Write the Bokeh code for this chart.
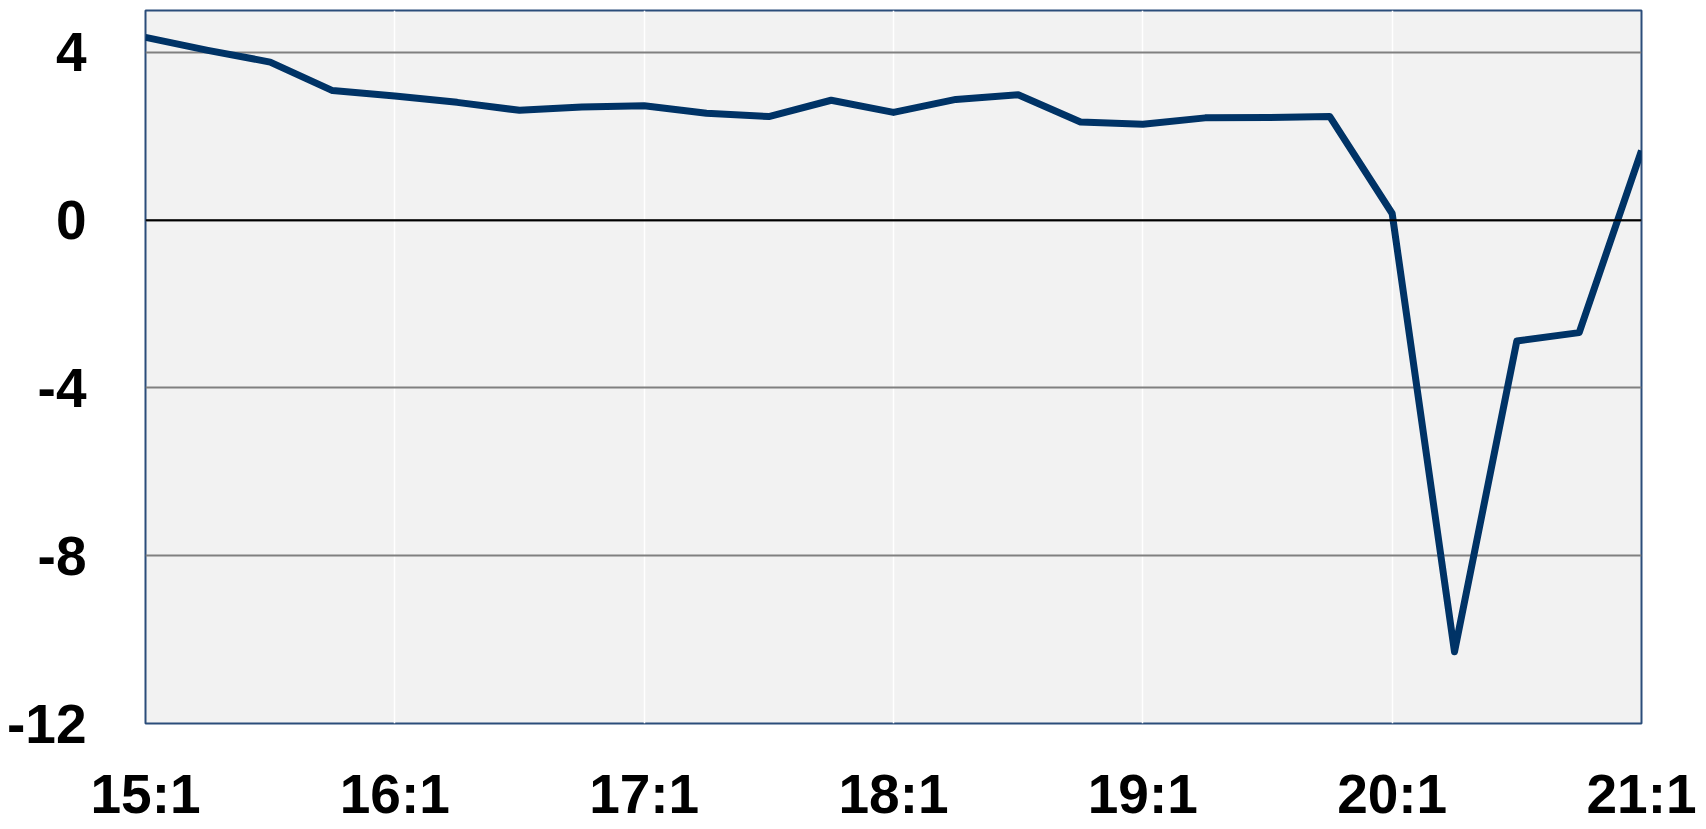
from bokeh.plotting import figure
from bokeh.models import FixedTicker, Span
from bokeh.embed import file_html
from bokeh.resources import INLINE

quarters = ["15:1", "15:2", "15:3", "15:4",
            "16:1", "16:2", "16:3", "16:4",
            "17:1", "17:2", "17:3", "17:4",
            "18:1", "18:2", "18:3", "18:4",
            "19:1", "19:2", "19:3", "19:4",
            "20:1", "20:2", "20:3", "20:4",
            "21:1"]
values = [4.36, 4.05, 3.77, 3.09,
          2.96, 2.81, 2.62, 2.70,
          2.73, 2.55, 2.47, 2.86,
          2.57, 2.88, 2.99, 2.34,
          2.29, 2.44, 2.45, 2.47,
          0.16, -10.29, -2.88, -2.68,
          1.66]
y_ticks = [-12, -8, -4, 0, 4]
y_labels = ["-12", "-8", "-4", "0", "4"]

xs = list(range(len(quarters)))
year_ticks = [i for i, q in enumerate(quarters) if q.endswith(":1")]

FONT = "Liberation Sans"

p = figure(width=1700, height=829, output_backend="svg", toolbar_location=None,
           x_range=(0, len(quarters) - 1), y_range=(-12, 5),
           min_border_left=145, min_border_right=59, min_border_top=10, min_border_bottom=106)

p.background_fill_color = "#f2f2f2"
p.border_fill_color = "white"
p.outline_line_color = "#2b4d7a"
p.outline_line_width = 2

p.xaxis.ticker = FixedTicker(ticks=year_ticks)
p.xaxis.major_label_overrides = {i: quarters[i] for i in year_ticks}
p.yaxis.ticker = FixedTicker(ticks=y_ticks)
p.yaxis.major_label_overrides = dict(zip(y_ticks, y_labels))

for ax in (p.xaxis[0], p.yaxis[0]):
    ax.axis_line_color = None
    ax.major_tick_line_color = None
    ax.minor_tick_line_color = None
    ax.major_label_text_font = FONT
    ax.major_label_text_font_style = "bold"
    ax.major_label_text_font_size = "55px"
    ax.major_label_text_color = "black"
p.yaxis.major_label_standoff = 53
p.xaxis.major_label_standoff = 33

p.xgrid.grid_line_color = "white"
p.xgrid.grid_line_width = 1.5
p.ygrid.grid_line_color = "#808080"
p.ygrid.grid_line_width = 2

p.add_layout(Span(location=0, dimension="width", line_color="black", line_width=2))

p.line(xs, values, line_color="#003366", line_width=7, line_join="round")

open("out.html", "w").write(file_html(p, INLINE))
